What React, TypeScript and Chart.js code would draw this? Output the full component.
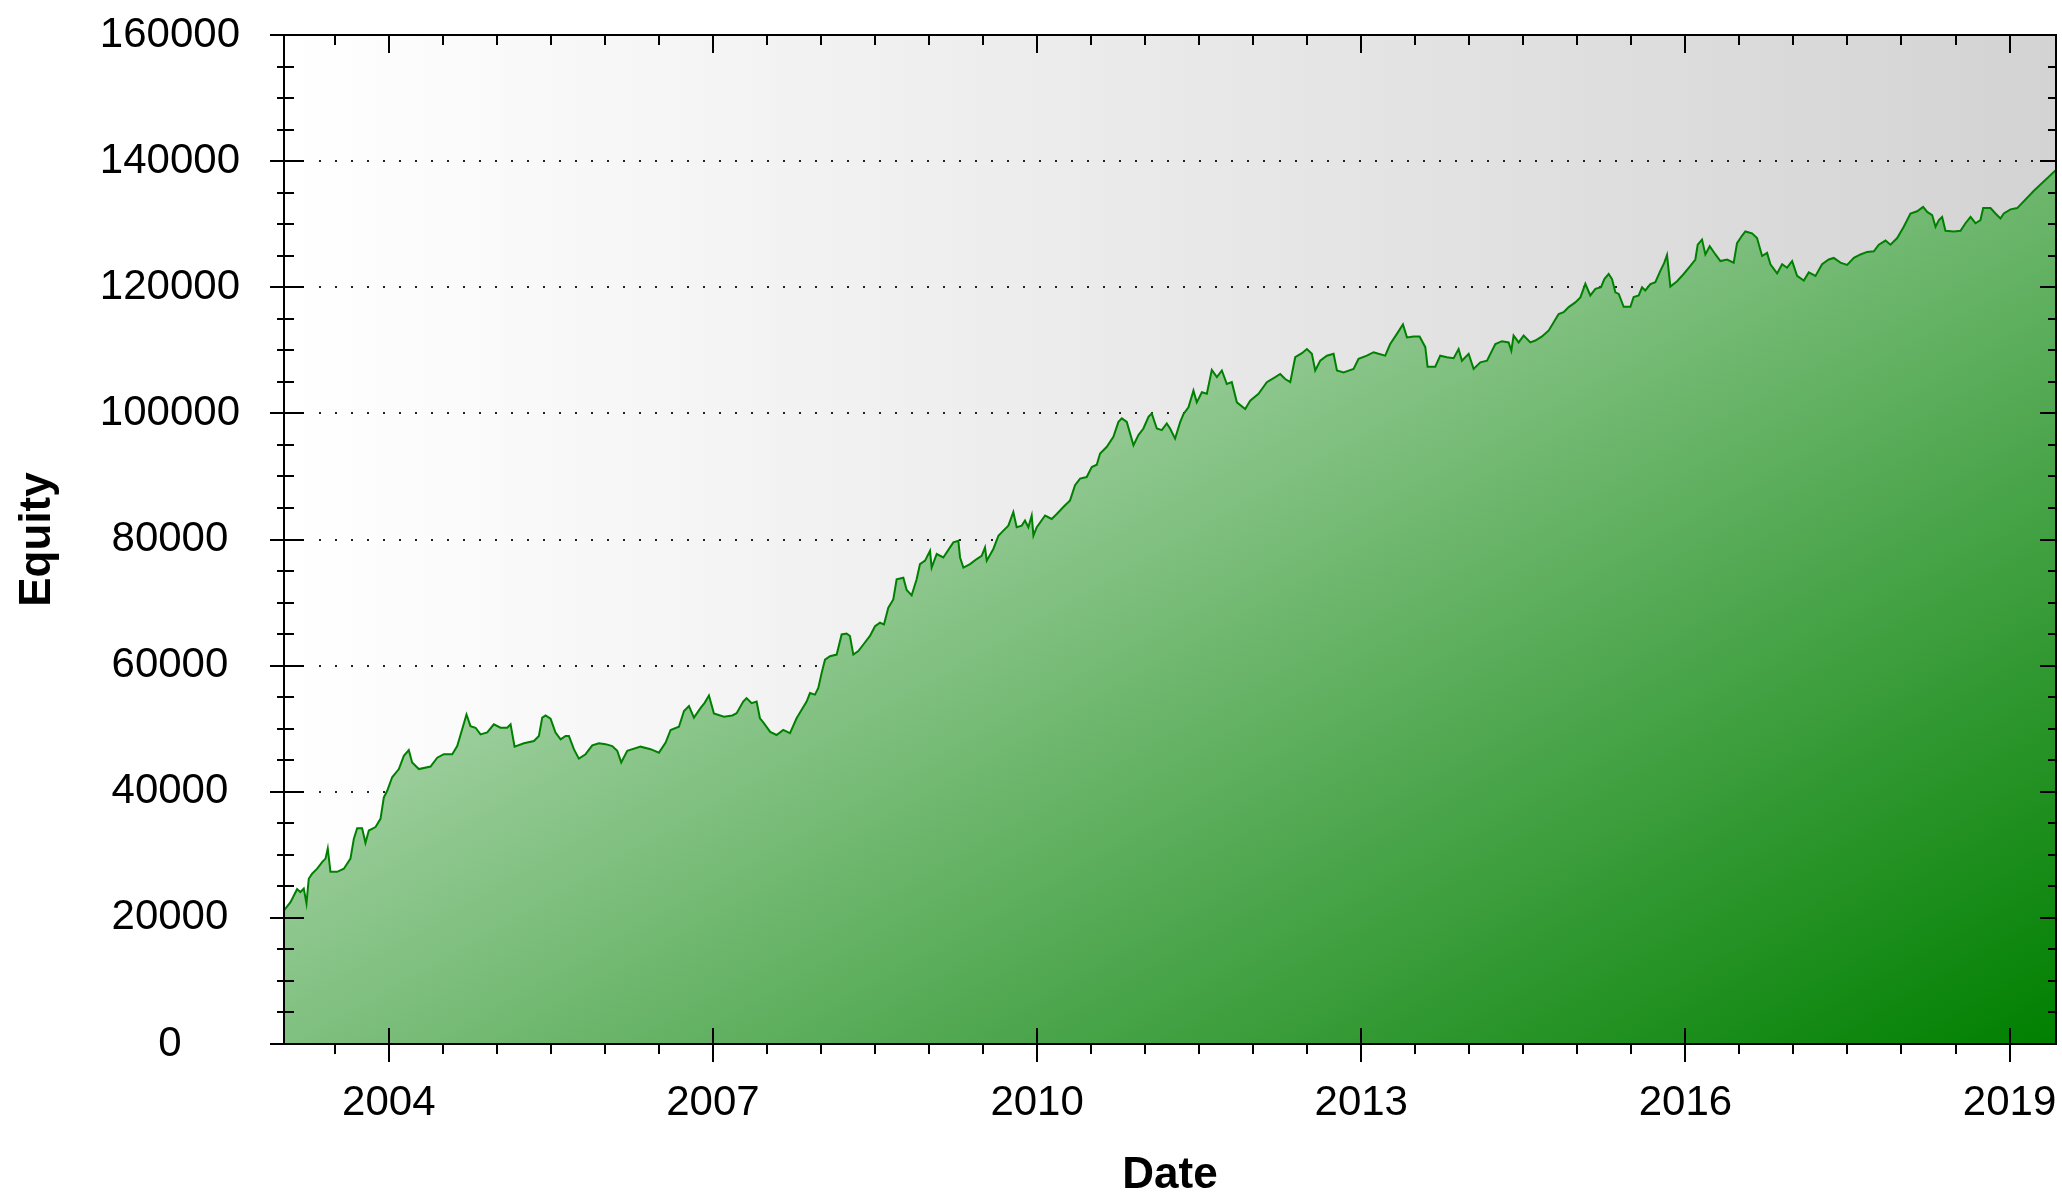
import React, { useEffect, useRef } from 'react';
import { Chart, registerables } from 'chart.js';

Chart.register(...registerables);

// Decimal years of the sampled equity points
const dateYears: number[] = [
  2003.03, 2003.09, 2003.151, 2003.182, 2003.213, 2003.238, 2003.259, 2003.29, 2003.337, 2003.383,
  2003.414, 2003.435, 2003.46, 2003.522, 2003.584, 2003.645, 2003.676, 2003.707, 2003.753, 2003.784,
  2003.815, 2003.877, 2003.923, 2003.954, 2003.985, 2004.031, 2004.093, 2004.139, 2004.185, 2004.216,
  2004.278, 2004.386, 2004.448, 2004.509, 2004.587, 2004.633, 2004.679, 2004.719, 2004.756, 2004.803,
  2004.849, 2004.911, 2004.972, 2005.034, 2005.096, 2005.127, 2005.164, 2005.25, 2005.343, 2005.389,
  2005.42, 2005.451, 2005.497, 2005.543, 2005.59, 2005.636, 2005.667, 2005.713, 2005.759, 2005.821,
  2005.883, 2005.945, 2006.006, 2006.068, 2006.114, 2006.151, 2006.207, 2006.33, 2006.423, 2006.5,
  2006.562, 2006.608, 2006.685, 2006.732, 2006.778, 2006.824, 2006.886, 2006.923, 2006.963, 2007.009,
  2007.102, 2007.179,
  2007.219, 2007.28, 2007.311, 2007.358, 2007.404, 2007.435, 2007.466, 2007.53, 2007.589, 2007.65,
  2007.713, 2007.774, 2007.821, 2007.867, 2007.898, 2007.944, 2007.975, 2008.006, 2008.037, 2008.083,
  2008.145, 2008.191, 2008.237, 2008.268, 2008.299, 2008.345, 2008.392, 2008.453, 2008.5, 2008.546,
  2008.583, 2008.623, 2008.669, 2008.7, 2008.762, 2008.793, 2008.839, 2008.885, 2008.916, 2008.963,
  2009.009, 2009.024, 2009.071, 2009.132, 2009.194, 2009.225, 2009.271, 2009.287, 2009.318, 2009.379,
  2009.441, 2009.487, 2009.518, 2009.534, 2009.595, 2009.642, 2009.688, 2009.734, 2009.78, 2009.811,
  2009.858, 2009.888, 2009.919, 2009.95, 2009.966, 2009.997, 2010.074, 2010.135, 2010.182, 2010.243,
  2010.305, 2010.351, 2010.398, 2010.459, 2010.506, 2010.552, 2010.583, 2010.645, 2010.706, 2010.753,
  2010.784, 2010.83, 2010.892, 2010.938, 2010.984, 2011.031, 2011.061, 2011.108, 2011.154, 2011.2,
  2011.231, 2011.277,
  2011.324, 2011.355, 2011.401, 2011.447, 2011.478, 2011.525, 2011.571, 2011.617, 2011.664, 2011.71,
  2011.756, 2011.802, 2011.849, 2011.926, 2011.972, 2012.049, 2012.126, 2012.204, 2012.25, 2012.296,
  2012.343, 2012.389, 2012.451, 2012.497, 2012.543, 2012.574, 2012.62, 2012.682, 2012.744, 2012.775,
  2012.836, 2012.929, 2012.975, 2013.052, 2013.114, 2013.16, 2013.222, 2013.268, 2013.33, 2013.386,
  2013.423, 2013.485, 2013.54, 2013.593, 2013.614, 2013.685, 2013.731, 2013.793, 2013.855, 2013.901,
  2013.932, 2013.994, 2014.04, 2014.102, 2014.164, 2014.241, 2014.302, 2014.364, 2014.389, 2014.41,
  2014.457, 2014.503, 2014.565, 2014.611, 2014.673, 2014.735, 2014.781, 2014.827, 2014.873, 2014.92,
  2014.981, 2015.028, 2015.074, 2015.12, 2015.167, 2015.219, 2015.25, 2015.29, 2015.321, 2015.352,
  2015.383,
  2015.429, 2015.491, 2015.521, 2015.568, 2015.599, 2015.629, 2015.676, 2015.722, 2015.768, 2015.805,
  2015.83, 2015.861, 2015.923, 2015.984, 2016.046, 2016.092, 2016.114, 2016.154, 2016.185, 2016.225,
  2016.278, 2016.324, 2016.386, 2016.447, 2016.478, 2016.525, 2016.555, 2016.617, 2016.663, 2016.71,
  2016.756, 2016.787, 2016.849, 2016.895, 2016.941, 2016.988, 2017.034, 2017.096, 2017.142, 2017.204,
  2017.265, 2017.327, 2017.373, 2017.435, 2017.497, 2017.559, 2017.62, 2017.682, 2017.744, 2017.79,
  2017.852, 2017.898, 2017.96, 2018.021, 2018.083, 2018.145, 2018.2, 2018.238, 2018.284, 2018.315,
  2018.346, 2018.376, 2018.407, 2018.485, 2018.546, 2018.592, 2018.639, 2018.685, 2018.731, 2018.756,
  2018.824, 2018.87, 2018.916, 2018.947, 2019.009, 2019.071, 2019.225, 2019.43,
];

// Equity values at those dates
const equity: number[] = [
  21200, 22500, 24550, 24100, 24650, 22300, 26200, 27000, 27800, 28850,
  29400, 31000, 27300, 27300, 27800, 29400, 32500, 34200, 34200, 31900,
  33850, 34400, 35700, 39100, 40150, 42300, 43600, 45700, 46600, 44650,
  43600, 44000, 45400, 45950, 45950, 47250, 49900, 52250, 50400, 50150,
  49100, 49400, 50700, 50150, 50150, 50700, 47150, 47700, 48050, 48850,
  51750, 52100, 51600, 49400, 48300, 48850, 48850, 46750, 45250, 45950,
  47350, 47700, 47550, 47250, 46500, 44650, 46500, 47150, 46750, 46200,
  47800, 49800, 50300, 52800, 53600, 51750, 53300, 54100, 55250, 52400,
  51900, 52100,
  52450, 54300, 54850, 54050, 54300, 51650, 51000, 49500, 49000, 49800,
  49300, 51650, 53000, 54300, 55650, 55400, 56450, 58850, 60950, 61500,
  61750, 64950, 65100, 64700, 61750, 62300, 63350, 64700, 66250, 66800,
  66550, 69200, 70500, 73700, 73950, 72000, 71150, 73700, 76100, 76650,
  78200, 75550, 77700, 77150, 78750, 79550, 79800, 77150, 75550, 76100,
  76900, 77400, 78750, 76650, 78500, 80600, 81400, 82200, 84350, 81950,
  82200, 83000, 81950, 83800, 80600, 81950, 83800, 83250, 84050, 85150,
  86200, 88600, 89650, 89900, 91500, 91850, 93650, 94700, 96300, 98650,
  99200, 98650, 94950, 96550, 97600, 99450, 100000, 97600, 97350, 98400,
  97600, 96000,
  98600, 99900, 100950, 103600, 101750, 103350, 103100, 106900, 105750, 106800,
  104650, 104950, 101750, 100700, 102000, 103100, 104950, 105750, 106250, 105450,
  104950, 108900, 109550, 110200, 109450, 106800, 108350, 109150, 109450, 106800,
  106500, 107050, 108650, 109150, 109700, 109450, 109150, 111000, 112600, 114100,
  112050, 112200, 112200, 110500, 107400, 107400, 109150, 108900, 108750, 110200,
  108350, 109450, 107050, 108100, 108350, 111000, 111450, 111250, 109950, 112350,
  111250, 112350, 111250, 111550, 112200, 113150, 114450, 115750, 116050, 116850,
  117600, 118400, 120550, 118700, 119750, 120000, 121300, 122100, 121300, 119200,
  118950,
  116900, 116900, 118450, 118700, 120000, 119500, 120500, 120800, 122600, 123900,
  125100, 120100, 120950, 122100, 123400, 124400, 126750, 127550, 125200, 126500,
  125200, 124150, 124400, 123900, 127000, 128200, 128850, 128550, 127800, 124950,
  125450, 123650, 122200, 123650, 123100, 124150, 121800, 121050, 122350, 121800,
  123650, 124400, 124650, 123900, 123550, 124650, 125200, 125600, 125700, 126750,
  127400, 126750, 127800, 129600, 131700, 132050, 132750, 131950, 131450, 129600,
  130650, 131150, 128950, 128850, 128950, 130150, 131150, 130150, 130650, 132550,
  132550, 131700, 130900, 131700, 132350, 132550, 135300, 138600,
];

const yearTicks: number[] = [2004, 2007, 2010, 2013, 2016, 2019];
const equityTicks: number[] = [0, 20000, 40000, 60000, 80000, 100000, 120000, 140000, 160000];
const xRange: number[] = [2003.03, 2019.43];
const yRange: number[] = [0, 160000];

const CW = 2062;
const CH = 1194;
const FONT = "'Liberation Sans', Arial, sans-serif";

const decoPlugin = {
  id: 'equityDeco',
  beforeDatasetsDraw(chart: any) {
    const { ctx, chartArea: a } = chart;
    ctx.save();
    const bg = ctx.createLinearGradient(a.left, 0, a.right, 0);
    bg.addColorStop(0, '#ffffff');
    bg.addColorStop(1, '#d3d3d3');
    ctx.fillStyle = bg;
    ctx.fillRect(a.left, a.top, a.right - a.left, a.bottom - a.top);

    const ys = chart.scales.y;
    ctx.strokeStyle = '#222222';
    ctx.lineWidth = 2;
    ctx.setLineDash([2, 14]);
    for (const v of equityTicks) {
      if (v === yRange[0] || v === yRange[1]) continue;
      const py = Math.round(ys.getPixelForValue(v));
      ctx.beginPath();
      ctx.moveTo(a.left + 35, py);
      ctx.lineTo(a.right - 18, py);
      ctx.stroke();
    }
    ctx.restore();
  },
  afterDatasetsDraw(chart: any) {
    const { ctx, chartArea: a } = chart;
    const xs = chart.scales.x;
    const ys = chart.scales.y;
    ctx.save();
    ctx.strokeStyle = '#000000';
    ctx.lineWidth = 2;
    ctx.setLineDash([]);
    ctx.strokeRect(a.left, a.top, a.right - a.left, a.bottom - a.top);

    const line = (x1: number, y1: number, x2: number, y2: number) => {
      ctx.beginPath();
      ctx.moveTo(x1, y1);
      ctx.lineTo(x2, y2);
      ctx.stroke();
    };

    // y ticks (major every 20000, minor every 5000)
    for (let v = yRange[0]; v <= yRange[1]; v += 5000) {
      const py = Math.round(ys.getPixelForValue(v));
      const major = equityTicks.includes(v);
      if (major) {
        line(a.left - 14, py, a.left + 20, py);
        line(a.right - 16, py, a.right, py);
      } else {
        line(a.left - 7, py, a.left + 10, py);
        line(a.right - 8, py, a.right, py);
      }
    }
    // x ticks (major on labelled years, minor every half year)
    const start = Math.ceil(xRange[0] * 2) / 2;
    for (let t = start; t <= xRange[1] + 1e-9; t += 0.5) {
      const px = Math.round(xs.getPixelForValue(t));
      const major = yearTicks.includes(t);
      if (major) {
        line(px, a.bottom - 16, px, a.bottom + 18);
        line(px, a.top, px, a.top + 18);
      } else {
        line(px, a.bottom, px, a.bottom + 10);
        line(px, a.top, px, a.top + 10);
      }
    }
    ctx.restore();
  },
};

export default function App() {
  const ref = useRef<HTMLCanvasElement>(null);

  useEffect(() => {
    const canvas = ref.current;
    if (!canvas) return;
    const points = dateYears.map((d, i) => ({ x: d, y: equity[i] }));

    const chart = new Chart(canvas, {
      type: 'line',
      data: {
        datasets: [
          {
            label: 'Equity',
            data: points,
            borderColor: '#008000',
            borderWidth: 2,
            pointRadius: 0,
            tension: 0,
            fill: 'origin',
            backgroundColor: (c: any) => {
              const ch = c.chart;
              const a = ch.chartArea;
              if (!a) return 'rgba(0,128,0,0.5)';
              const w = a.right - a.left;
              const h = a.bottom - a.top;
              const k = (2 * w * h) / (w * w + h * h);
              const g = ch.ctx.createLinearGradient(a.left, a.top, a.left + h * k, a.top + w * k);
              g.addColorStop(0, '#ffffff');
              g.addColorStop(1, '#008000');
              return g;
            },
          },
        ],
      },
      options: {
        responsive: false,
        devicePixelRatio: 1,
        animation: false,
        layout: { padding: { top: 35, right: 6, left: 0, bottom: 0 } },
        plugins: {
          legend: { display: false },
          tooltip: { enabled: false },
          title: { display: false },
        },
        scales: {
          x: {
            type: 'linear',
            position: 'bottom',
            min: xRange[0],
            max: xRange[1],
            grid: { display: false, drawTicks: false },
            border: { display: false },
            afterBuildTicks: (s: any) => {
              s.ticks = yearTicks.map((v) => ({ value: v }));
            },
            afterFit: (s: any) => {
              s.height = 150;
              s.paddingLeft = 0;
              s.paddingRight = 0;
            },
            ticks: {
              autoSkip: false,
              maxRotation: 0,
              padding: 34,
              color: '#000000',
              font: { family: FONT, size: 42 },
              callback: (v: any) => String(v),
            },
            title: {
              display: true,
              text: 'Date',
              color: '#000000',
              font: { family: FONT, size: 44, weight: 'bold', lineHeight: 1 },
              padding: { top: 0, bottom: -4 },
            },
          },
          y: {
            type: 'linear',
            position: 'left',
            min: yRange[0],
            max: yRange[1],
            grid: { display: false, drawTicks: false },
            border: { display: false },
            afterBuildTicks: (s: any) => {
              s.ticks = equityTicks.map((v) => ({ value: v }));
            },
            afterFit: (s: any) => {
              s.width = 284;
              s.paddingTop = 0;
              s.paddingBottom = 0;
            },
            ticks: {
              padding: 44,
              crossAlign: 'center',
              color: '#000000',
              font: { family: FONT, size: 42 },
              callback: (v: any) => String(v),
            },
            title: {
              display: true,
              text: 'Equity',
              color: '#000000',
              font: { family: FONT, size: 44, weight: 'bold', lineHeight: 1 },
              padding: { top: 16, bottom: 0 },
            },
          },
        },
      } as any,
      plugins: [decoPlugin],
    });

    return () => chart.destroy();
  }, []);

  return (
    <div style={{ position: 'absolute', left: 0, top: 0, width: CW, height: CH, background: '#ffffff' }}>
      <canvas ref={ref} width={CW} height={CH} style={{ display: 'block', width: CW, height: CH }} />
    </div>
  );
}
